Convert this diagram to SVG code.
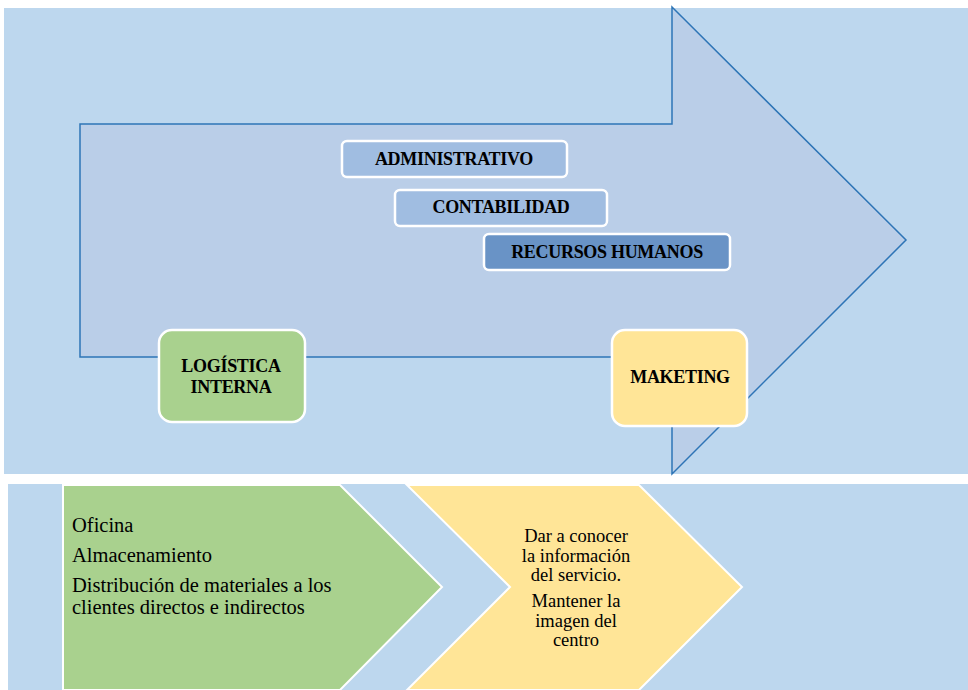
<svg xmlns="http://www.w3.org/2000/svg" width="968" height="690" viewBox="0 0 968 690">
<style>
text{font-family:"Liberation Serif","Times New Roman",serif;fill:#000}
.bold{font-weight:bold;font-size:18px;text-anchor:middle;letter-spacing:-0.3px}
.reg{font-size:20.5px}
.regc{font-size:18.5px;text-anchor:middle}
.box{stroke:#fff;stroke-width:2.5}
.chev{stroke:#fff;stroke-width:2}
</style>
<rect x="0" y="0" width="968" height="690" fill="#fff"/>
<g id="top-panel">
<rect x="4" y="8" width="964" height="466" fill="#BDD7EE"/>
</g>
<g id="big-arrow">
<polygon points="80,124 672,124 672,7 906,240 672,474 672,357 80,357" fill="#BACEE8" stroke="#2E75B6" stroke-width="1.5"/>
</g>
<g id="administrativo">
<rect class="box" x="342" y="141" width="225" height="36" rx="5" fill="#A0BDE1"/>
<text class="bold" x="454" y="165">ADMINISTRATIVO</text>
</g>
<g id="contabilidad">
<rect class="box" x="395" y="190" width="212" height="36" rx="5" fill="#A0BDE1"/>
<text class="bold" x="501" y="213">CONTABILIDAD</text>
</g>
<g id="recursos-humanos">
<rect class="box" x="484" y="234" width="246" height="36" rx="5" fill="#6993C6"/>
<text class="bold" x="607" y="258">RECURSOS HUMANOS</text>
</g>
<g id="logistica-interna">
<rect class="box" x="159" y="330" width="146" height="92" rx="13" fill="#A9D18E"/>
<text class="bold" x="231" y="372">LOGÍSTICA</text>
<text class="bold" x="231" y="393">INTERNA</text>
</g>
<g id="maketing">
<rect class="box" x="612" y="330" width="135" height="96" rx="13" fill="#FFE597"/>
<text class="bold" x="680" y="383">MAKETING</text>
</g>
<g id="bottom-panel">
<rect x="8" y="484" width="960" height="206" fill="#BDD7EE"/>
</g>
<g id="connectors"></g>
<g id="logistica-detail">
<polygon class="chev" points="63,485 340,485 442,587 340,690 63,690" fill="#A9D18E"/>
<text class="reg" x="72" y="532">Oficina</text>
<text class="reg" x="72" y="562">Almacenamiento</text>
<text class="reg" x="72" y="592">Distribución de materiales a los</text>
<text class="reg" x="72" y="614">clientes directos e indirectos</text>
</g>
<g id="maketing-detail">
<polygon class="chev" points="407,485 639,485 742,587 639,690 407,690 510,587" fill="#FFE597"/>
<text class="regc" x="576" y="542">Dar a conocer</text>
<text class="regc" x="576" y="562">la información</text>
<text class="regc" x="576" y="581">del servicio.</text>
<text class="regc" x="576" y="607">Mantener la</text>
<text class="regc" x="576" y="627">imagen del</text>
<text class="regc" x="576" y="646">centro</text>
</g>
</svg>
